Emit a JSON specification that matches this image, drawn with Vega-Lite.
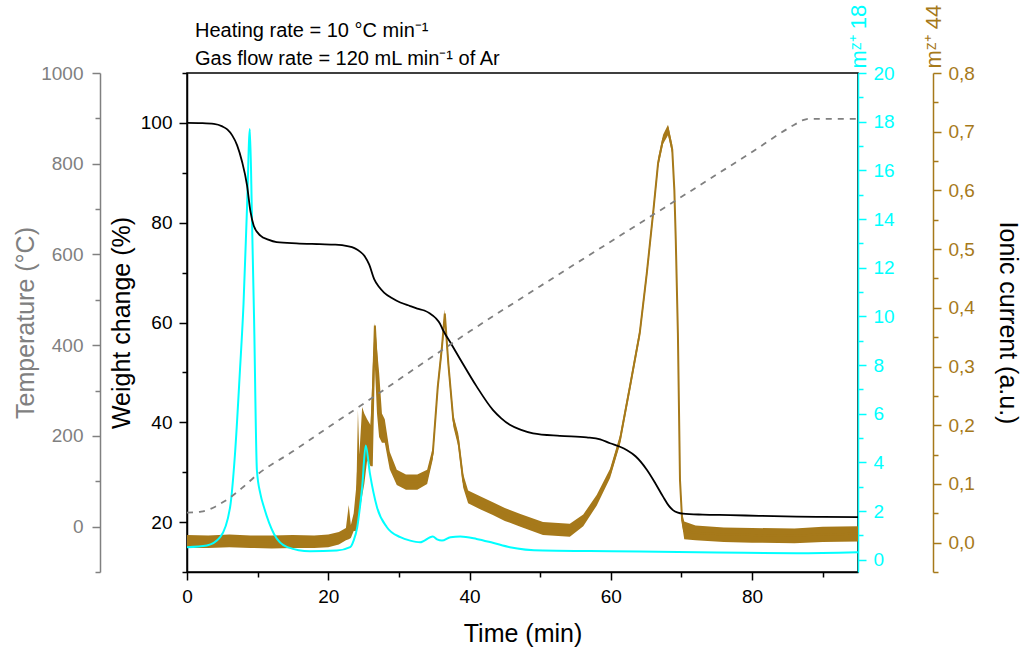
{
  "$schema": "https://vega.github.io/schema/vega-lite/v6.json",
  "autosize": {"type": "none"},
  "width": 671,
  "height": 499,
  "padding": {"left": 187, "top": 73, "right": 168, "bottom": 78},
  "background": "white",
  "config": {
    "font": "Liberation Sans",
    "view": {"stroke": "black", "strokeWidth": 1.5},
    "axis": {"grid": false, "domainWidth": 1.5, "tickWidth": 1.5, "labelFontSize": 19, "titleFontSize": 25, "titleFontWeight": "normal", "labelFont": "Liberation Sans", "titleFont": "Liberation Sans", "labelFlush": false, "labelOverlap": false}
  },
  "title": {"text": ["Heating rate = 10 °C min⁻¹", "Gas flow rate = 120 mL min⁻¹ of Ar"], "anchor": "start", "frame": "group", "dx": 8, "offset": -65, "fontSize": 20, "fontWeight": "normal", "lineHeight": 28, "font": "Liberation Sans", "color": "black"},
  "datasets": {
    "temp": [
      {"t": 0, "T": 31}, {"t": 1, "T": 31.5}, {"t": 2, "T": 33}, {"t": 3, "T": 37}, {"t": 4, "T": 44}, {"t": 5, "T": 53}, {"t": 6, "T": 63}, {"t": 8, "T": 88}, {"t": 9.9, "T": 114}, {"t": 15, "T": 166}, {"t": 20, "T": 219}, {"t": 25, "T": 271}, {"t": 32.6, "T": 352}, {"t": 40.1, "T": 431}, {"t": 50, "T": 530}, {"t": 62.7, "T": 655}, {"t": 69.4, "T": 721}, {"t": 80, "T": 826}, {"t": 86, "T": 886}, {"t": 87.2, "T": 896}, {"t": 88, "T": 899}, {"t": 95, "T": 899}
    ],
    "weight": [
      {"t": 0, "w": 100}, {"t": 2, "w": 99.95}, {"t": 3.8, "w": 99.8}, {"t": 5, "w": 99.3}, {"t": 5.7, "w": 98.7}, {"t": 6.4, "w": 97.5}, {"t": 7.1, "w": 95.5}, {"t": 7.8, "w": 92.2}, {"t": 8.5, "w": 87.5}, {"t": 9.0, "w": 82.1}, {"t": 9.45, "w": 79.4}, {"t": 10.4, "w": 77.4}, {"t": 11.5, "w": 76.6}, {"t": 12.7, "w": 76.1}, {"t": 15.5, "w": 75.85}, {"t": 18.8, "w": 75.7}, {"t": 21, "w": 75.6}, {"t": 22.7, "w": 75.3}, {"t": 23.7, "w": 74.9}, {"t": 24.5, "w": 74.2}, {"t": 25.2, "w": 73.2}, {"t": 25.8, "w": 71.6}, {"t": 26.5, "w": 68.7}, {"t": 27.2, "w": 67.1}, {"t": 27.9, "w": 66.0}, {"t": 29, "w": 64.9}, {"t": 30.2, "w": 64.0}, {"t": 31.6, "w": 63.3}, {"t": 32.6, "w": 62.8}, {"t": 33.6, "w": 62.4}, {"t": 34.4, "w": 61.8}, {"t": 35.2, "w": 60.9}, {"t": 35.8, "w": 59.8}, {"t": 36.2, "w": 58.6}, {"t": 37.5, "w": 55.5}, {"t": 38.7, "w": 52.6}, {"t": 41.0, "w": 47.2}, {"t": 43.3, "w": 42.5}, {"t": 44.5, "w": 40.8}, {"t": 45.7, "w": 39.5}, {"t": 47.3, "w": 38.5}, {"t": 49.0, "w": 37.8}, {"t": 52.8, "w": 37.3}, {"t": 56.6, "w": 37.0}, {"t": 58.5, "w": 36.6}, {"t": 59.9, "w": 35.8}, {"t": 61.3, "w": 35.1}, {"t": 62.3, "w": 34.4}, {"t": 63.5, "w": 33.2}, {"t": 65.1, "w": 30.5}, {"t": 66.3, "w": 27.8}, {"t": 67.4, "w": 25.1}, {"t": 68.2, "w": 23.3}, {"t": 68.8, "w": 22.4}, {"t": 69.5, "w": 21.9}, {"t": 70.2, "w": 21.7}, {"t": 73, "w": 21.5}, {"t": 76.9, "w": 21.4}, {"t": 81, "w": 21.25}, {"t": 86.3, "w": 21.1}, {"t": 90, "w": 21.05}, {"t": 95, "w": 21.0}
    ],
    "m18": [
      {"t": 0, "m": 0.52}, {"t": 2.8, "m": 0.59}, {"t": 4.7, "m": 0.93}, {"t": 6.1, "m": 2.16}, {"t": 6.8, "m": 4.37}, {"t": 7.5, "m": 7.8}, {"t": 8.0, "m": 10.5}, {"t": 8.5, "m": 14.5}, {"t": 8.9, "m": 17.7}, {"t": 9.2, "m": 14.0}, {"t": 9.5, "m": 9.85}, {"t": 9.9, "m": 3.67}, {"t": 10.4, "m": 2.7}, {"t": 10.9, "m": 2.16}, {"t": 12.3, "m": 1.07}, {"t": 14.2, "m": 0.52}, {"t": 17.4, "m": 0.35}, {"t": 21.2, "m": 0.38}, {"t": 23.1, "m": 0.52}, {"t": 23.6, "m": 0.8}, {"t": 24.1, "m": 1.34}, {"t": 24.5, "m": 2.2}, {"t": 24.8, "m": 2.99}, {"t": 25.3, "m": 4.7}, {"t": 25.9, "m": 3.54}, {"t": 26.9, "m": 2.16}, {"t": 28.3, "m": 1.34}, {"t": 30.2, "m": 0.93}, {"t": 31.6, "m": 0.79}, {"t": 33.0, "m": 0.72}, {"t": 34.8, "m": 0.96}, {"t": 35.4, "m": 0.84}, {"t": 36.1, "m": 0.79}, {"t": 37.3, "m": 0.93}, {"t": 38.7, "m": 0.96}, {"t": 41.0, "m": 0.86}, {"t": 43.3, "m": 0.7}, {"t": 45.7, "m": 0.52}, {"t": 50.4, "m": 0.38}, {"t": 57, "m": 0.36}, {"t": 64.1, "m": 0.34}, {"t": 75, "m": 0.3}, {"t": 86.3, "m": 0.27}, {"t": 95, "m": 0.31}
    ],
    "m44": [
      {"t": 0, "mid": 0.002, "hi": 0.013, "lo": -0.009}, {"t": 3, "mid": 0.002, "hi": 0.012, "lo": -0.009}, {"t": 6, "mid": 0.003, "hi": 0.014, "lo": -0.008}, {"t": 9, "mid": 0.002, "hi": 0.012, "lo": -0.009}, {"t": 12, "mid": 0.001, "hi": 0.012, "lo": -0.01}, {"t": 15, "mid": 0.002, "hi": 0.013, "lo": -0.009}, {"t": 18, "mid": 0.002, "hi": 0.012, "lo": -0.009}, {"t": 20, "mid": 0.003, "hi": 0.014, "lo": -0.008}, {"t": 21.5, "mid": 0.008, "hi": 0.018, "lo": -0.003}, {"t": 22.5, "mid": 0.014, "hi": 0.025, "lo": 0.004}, {"t": 22.9, "mid": 0.02, "hi": 0.064, "lo": 0.006}, {"t": 23.2, "mid": 0.02, "hi": 0.03, "lo": 0.008}, {"t": 23.6, "mid": 0.035, "hi": 0.05, "lo": 0.02}, {"t": 24.0, "mid": 0.06, "hi": 0.1, "lo": 0.02}, {"t": 24.2, "mid": 0.12, "hi": 0.226, "lo": 0.03}, {"t": 24.4, "mid": 0.1, "hi": 0.15, "lo": 0.05}, {"t": 24.8, "mid": 0.17, "hi": 0.231, "lo": 0.08}, {"t": 25.1, "mid": 0.16, "hi": 0.22, "lo": 0.1}, {"t": 25.5, "mid": 0.17, "hi": 0.21, "lo": 0.14}, {"t": 26.0, "mid": 0.17, "hi": 0.2, "lo": 0.13}, {"t": 26.3, "mid": 0.25, "hi": 0.3, "lo": 0.13}, {"t": 26.6, "mid": 0.37, "hi": 0.374, "lo": 0.3}, {"t": 26.9, "mid": 0.3, "hi": 0.33, "lo": 0.22}, {"t": 27.2, "mid": 0.22, "hi": 0.29, "lo": 0.18}, {"t": 27.6, "mid": 0.2, "hi": 0.22, "lo": 0.17}, {"t": 28.0, "mid": 0.19, "hi": 0.21, "lo": 0.17}, {"t": 28.7, "mid": 0.14, "hi": 0.155, "lo": 0.125}, {"t": 29.7, "mid": 0.112, "hi": 0.124, "lo": 0.098}, {"t": 31, "mid": 0.104, "hi": 0.116, "lo": 0.09}, {"t": 32.6, "mid": 0.104, "hi": 0.116, "lo": 0.09}, {"t": 34.0, "mid": 0.112, "hi": 0.124, "lo": 0.1}, {"t": 34.8, "mid": 0.152, "hi": 0.162, "lo": 0.142}, {"t": 35.5, "mid": 0.265, "hi": 0.273, "lo": 0.257}, {"t": 36.1, "mid": 0.334, "hi": 0.342, "lo": 0.324}, {"t": 36.5, "mid": 0.39, "hi": 0.397, "lo": 0.375}, {"t": 37.0, "mid": 0.305, "hi": 0.315, "lo": 0.295}, {"t": 37.7, "mid": 0.209, "hi": 0.218, "lo": 0.198}, {"t": 38.4, "mid": 0.175, "hi": 0.186, "lo": 0.164}, {"t": 39.1, "mid": 0.106, "hi": 0.117, "lo": 0.094}, {"t": 39.8, "mid": 0.078, "hi": 0.089, "lo": 0.067}, {"t": 41.5, "mid": 0.068, "hi": 0.079, "lo": 0.057}, {"t": 43.3, "mid": 0.058, "hi": 0.069, "lo": 0.047}, {"t": 45, "mid": 0.048, "hi": 0.059, "lo": 0.037}, {"t": 47.2, "mid": 0.038, "hi": 0.049, "lo": 0.027}, {"t": 50.4, "mid": 0.024, "hi": 0.035, "lo": 0.013}, {"t": 54.2, "mid": 0.021, "hi": 0.032, "lo": 0.01}, {"t": 56.1, "mid": 0.038, "hi": 0.048, "lo": 0.028}, {"t": 58.0, "mid": 0.072, "hi": 0.081, "lo": 0.063}, {"t": 59.9, "mid": 0.118, "hi": 0.126, "lo": 0.11}, {"t": 61.3, "mid": 0.175, "hi": 0.183, "lo": 0.167}, {"t": 62.7, "mid": 0.265, "hi": 0.273, "lo": 0.257}, {"t": 64.1, "mid": 0.357, "hi": 0.365, "lo": 0.349}, {"t": 65.1, "mid": 0.459, "hi": 0.467, "lo": 0.451}, {"t": 66.0, "mid": 0.562, "hi": 0.57, "lo": 0.554}, {"t": 66.7, "mid": 0.647, "hi": 0.655, "lo": 0.639}, {"t": 67.4, "mid": 0.687, "hi": 0.695, "lo": 0.679}, {"t": 68.1, "mid": 0.704, "hi": 0.712, "lo": 0.694}, {"t": 68.7, "mid": 0.67, "hi": 0.678, "lo": 0.662}, {"t": 69.0, "mid": 0.6, "hi": 0.608, "lo": 0.592}, {"t": 69.2, "mid": 0.516, "hi": 0.52, "lo": 0.51}, {"t": 69.5, "mid": 0.357, "hi": 0.36, "lo": 0.35}, {"t": 69.8, "mid": 0.106, "hi": 0.11, "lo": 0.1}, {"t": 70.1, "mid": 0.038, "hi": 0.05, "lo": 0.03}, {"t": 70.4, "mid": 0.02, "hi": 0.036, "lo": 0.006}, {"t": 72, "mid": 0.017, "hi": 0.029, "lo": 0.004}, {"t": 76, "mid": 0.014, "hi": 0.026, "lo": 0.001}, {"t": 80, "mid": 0.013, "hi": 0.025, "lo": 0.0}, {"t": 86, "mid": 0.012, "hi": 0.024, "lo": -0.001}, {"t": 90, "mid": 0.014, "hi": 0.027, "lo": 0.001}, {"t": 95, "mid": 0.015, "hi": 0.028, "lo": 0.002}
    ]
  },
  "encoding": {
    "x": {"field": "t", "type": "quantitative", "scale": {"domain": [0, 95], "nice": false, "zero": false},
      "axis": {"title": "Time (min)", "orient": "bottom", "values": [0, 10, 20, 30, 40, 50, 60, 70, 80, 90], "labelExpr": "datum.value % 20 === 0 ? datum.label : ''", "tickSize": {"condition": {"test": "datum.value % 20 === 0", "value": 8}, "value": 5}, "labelPadding": 7, "titlePadding": 15, "domainColor": "black", "tickColor": "black", "labelColor": "black", "titleColor": "black"}}
  },
  "layer": [
    {"data": {"name": "m44"}, "mark": {"type": "area", "color": "#A6791A", "opacity": 1},
      "encoding": {"y": {"field": "hi", "type": "quantitative", "scale": {"domain": [-0.05, 0.8], "nice": false, "zero": false},
        "axis": {"orient": "right", "offset": 75, "title": "Ionic current (a.u.)", "titleColor": "black", "values": [-0.05, 0, 0.05, 0.1, 0.15, 0.2, 0.25, 0.3, 0.35, 0.4, 0.45, 0.5, 0.55, 0.6, 0.65, 0.7, 0.75, 0.8], "labelExpr": "abs(datum.value*10 - round(datum.value*10)) < 0.01 ? replace(format(datum.value,'.1f'),'.',',') : ''", "tickSize": {"condition": {"test": "abs(datum.value*10 - round(datum.value*10)) < 0.01", "value": 8}, "value": 5}, "labelPadding": 7, "titlePadding": 20, "domainColor": "#A6791A", "tickColor": "#A6791A", "labelColor": "#A6791A"}},
        "y2": {"field": "lo"}}},
    {"data": {"name": "m44"}, "mark": {"type": "line", "color": "#A6791A", "strokeWidth": 2},
      "encoding": {"y": {"field": "mid", "type": "quantitative", "scale": {"domain": [-0.05, 0.8], "nice": false, "zero": false}, "axis": null}}},
    {"data": {"name": "m18"}, "mark": {"type": "line", "color": "#00FFFF", "strokeWidth": 2, "interpolate": "monotone"},
      "encoding": {"y": {"field": "m", "type": "quantitative", "scale": {"domain": [-0.5, 20], "nice": false, "zero": false},
        "axis": {"orient": "right", "offset": 0, "title": "mᶻ⁺ 18", "titleColor": "#00FFFF", "titleFontSize": 22, "titleAngle": -90, "titleX": 0, "titleY": -5, "titleAlign": "left", "titleBaseline": "middle", "values": [0, 1, 2, 3, 4, 5, 6, 7, 8, 9, 10, 11, 12, 13, 14, 15, 16, 17, 18, 19, 20], "labelExpr": "datum.value % 2 === 0 ? datum.label : ''", "tickSize": {"condition": {"test": "datum.value % 2 === 0", "value": 8}, "value": 5}, "labelPadding": 7, "domainColor": "#00FFFF", "tickColor": "#00FFFF", "labelColor": "#00FFFF"}}}},
    {"data": {"name": "weight"}, "mark": {"type": "line", "color": "black", "strokeWidth": 1.8, "interpolate": "monotone"},
      "encoding": {"y": {"field": "w", "type": "quantitative", "scale": {"domain": [10, 110], "nice": false, "zero": false},
        "axis": {"orient": "left", "offset": 0, "title": "Weight change (%)", "titleColor": "black", "values": [10, 20, 30, 40, 50, 60, 70, 80, 90, 100, 110], "labelExpr": "datum.value % 20 === 0 ? datum.label : ''", "tickSize": {"condition": {"test": "datum.value % 20 === 0", "value": 8}, "value": 5}, "labelPadding": 7, "titlePadding": 6, "domainColor": "black", "tickColor": "black", "labelColor": "black"}}}},
    {"data": {"name": "temp"}, "mark": {"type": "line", "color": "#808080", "strokeWidth": 1.8, "strokeDash": [6, 6], "interpolate": "monotone"},
      "encoding": {"y": {"field": "T", "type": "quantitative", "scale": {"domain": [-100, 1000], "nice": false, "zero": false},
        "axis": {"orient": "left", "offset": 87, "title": "Temperature (°C)", "titleColor": "#808080", "values": [-100, 0, 100, 200, 300, 400, 500, 600, 700, 800, 900, 1000], "labelExpr": "datum.value % 200 === 0 ? format(datum.value, 'd') : ''", "tickSize": {"condition": {"test": "datum.value % 200 === 0", "value": 8}, "value": 5}, "labelPadding": 9, "titlePadding": 2, "domainColor": "#808080", "tickColor": "#808080", "labelColor": "#808080"}}}},
    {"data": {"name": "m44"}, "mark": {"type": "line", "strokeOpacity": 0},
      "encoding": {"y": {"field": "mid", "type": "quantitative", "scale": {"domain": [-0.05, 0.8], "nice": false, "zero": false},
        "axis": {"orient": "right", "offset": 75, "title": "mᶻ⁺ 44", "titleColor": "#A6791A", "titleFontSize": 22, "titleAngle": -90, "titleX": 0, "titleY": -5, "titleAlign": "left", "titleBaseline": "middle", "labels": false, "ticks": false, "domain": false}}}}
  ],
  "resolve": {"scale": {"y": "independent"}, "axis": {"y": "independent"}}
}
